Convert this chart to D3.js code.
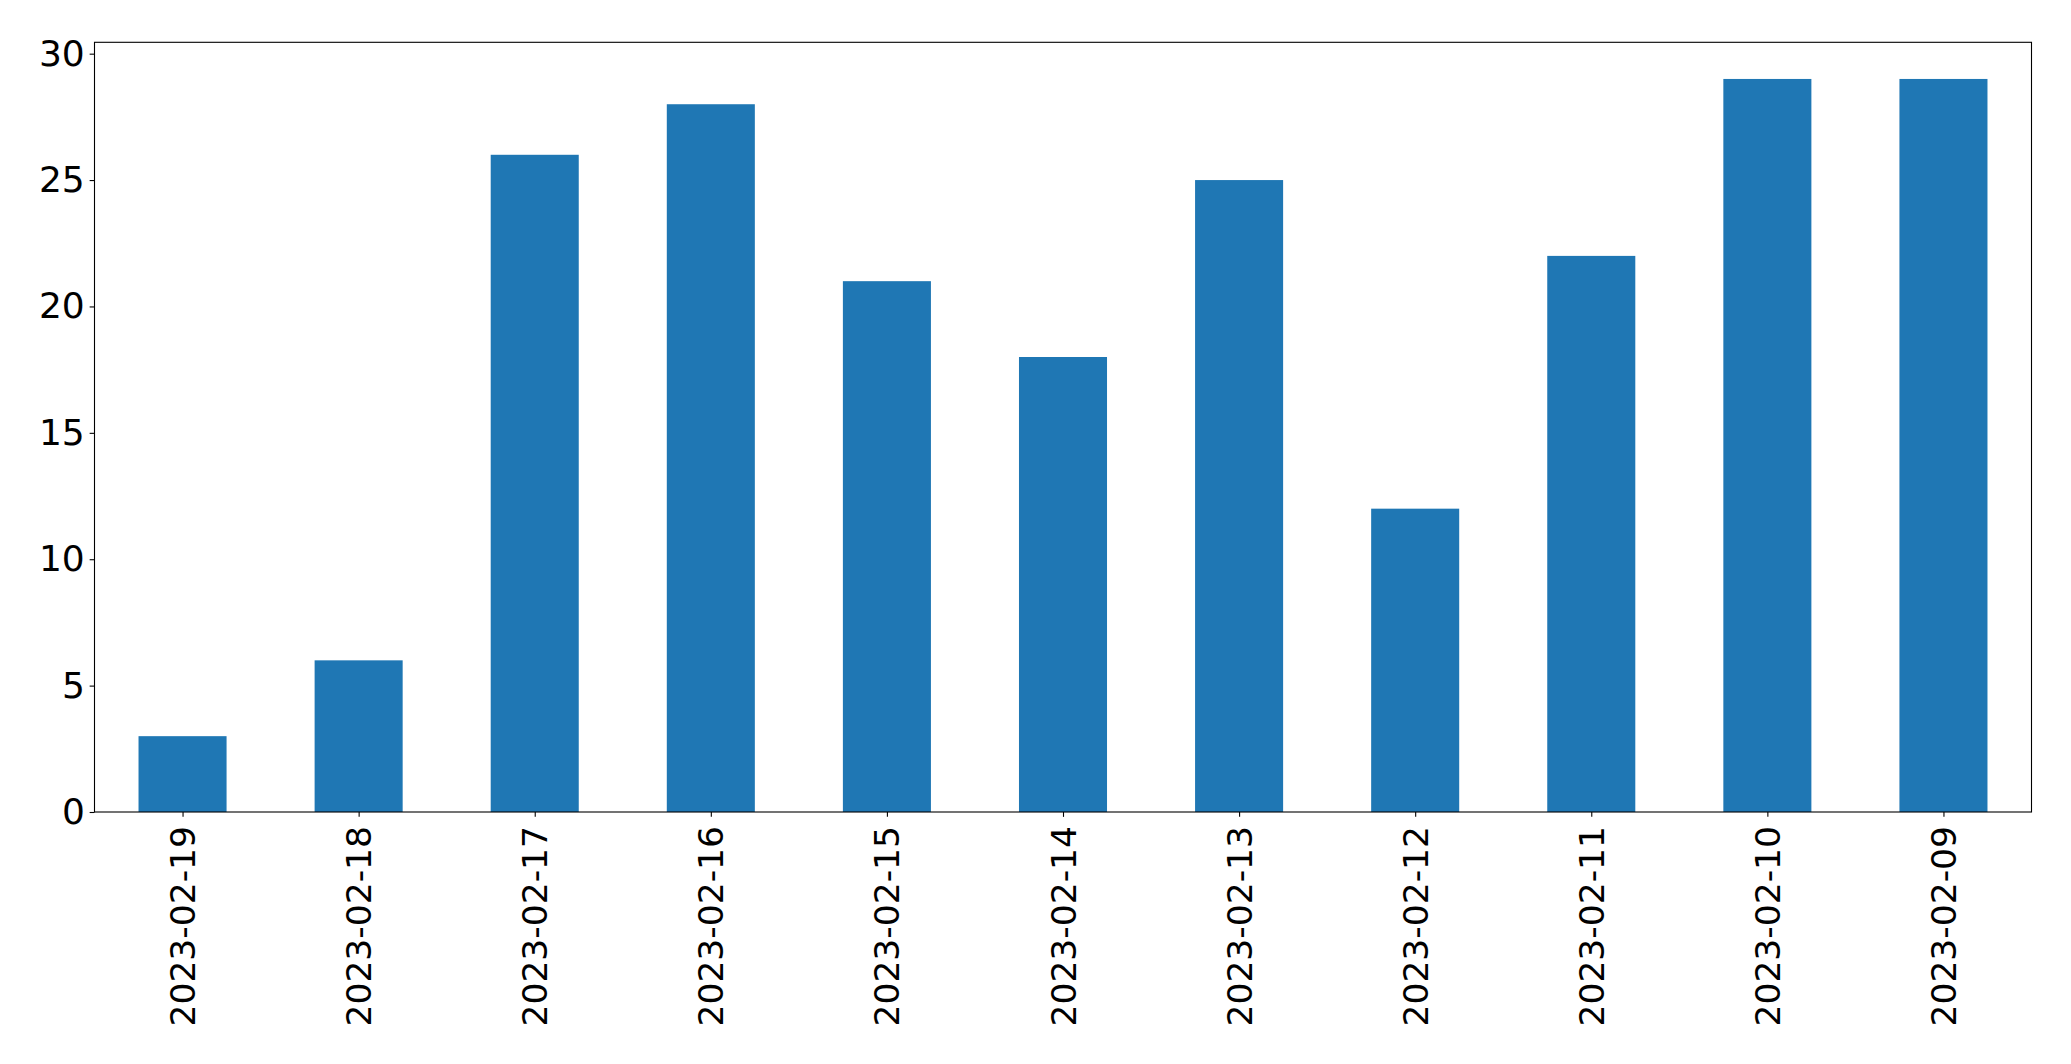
<!DOCTYPE html>
<html><head><meta charset="utf-8">
<script src="https://cdn.jsdelivr.net/npm/d3@7"></script>
<style>body{margin:0;background:#fff}svg{display:block}</style>
</head><body><svg id="c" width="2071" height="1064"></svg>
<script>
const categories = ["2023-02-19","2023-02-18","2023-02-17","2023-02-16","2023-02-15","2023-02-14","2023-02-13","2023-02-12","2023-02-11","2023-02-10","2023-02-09"];
const values = [3, 6, 26, 28, 21, 18, 25, 12, 22, 29, 29];
const yTicks = [0, 5, 10, 15, 20, 25, 30];

const svg = d3.select("#c");
const L = 94.5, R = 2031.5, T = 42.3, B = 812;
const font = "DejaVu Sans";
const x = d3.scaleLinear().domain([-0.5, categories.length - 0.5]).range([L, R]);
const y = d3.scaleLinear().domain([0, d3.max(values) * 1.05]).range([B, T]);
const bw = x(0.25) - x(-0.25);

svg.append("g").selectAll("rect").data(values).join("rect")
  .attr("x", (d, i) => x(i) - bw / 2)
  .attr("width", bw)
  .attr("y", d => y(d))
  .attr("height", d => B - y(d))
  .attr("fill", "#1f77b4");

const yAxis = svg.append("g").attr("transform", `translate(${L},0)`)
  .call(d3.axisLeft(y).tickValues(yTicks).tickSize(4.86).tickPadding(4.86).tickFormat(d3.format("d")));
yAxis.select(".domain").remove();
yAxis.selectAll("text").attr("font-family", font).attr("font-size", 36).attr("fill", "#000");
yAxis.selectAll("line").attr("stroke", "#000").attr("stroke-width", 1.1);

const xAxis = svg.append("g").attr("transform", `translate(0,${B})`)
  .call(d3.axisBottom(x).tickValues(d3.range(categories.length)).tickSize(4.86).tickPadding(4.86).tickFormat(i => categories[i]));
xAxis.select(".domain").remove();
xAxis.selectAll("line").attr("stroke", "#000").attr("stroke-width", 1.1);
xAxis.selectAll("text")
  .attr("font-family", font).attr("font-size", 34.5).attr("fill", "#000")
  .attr("text-anchor", "end")
  .attr("y", 0).attr("dy", "0.35em")
  .attr("transform", "translate(0,14) rotate(-90)")
  .attr("x", 0);

svg.append("rect").attr("x", L).attr("y", T).attr("width", R - L).attr("height", B - T)
  .attr("fill", "none").attr("stroke", "#000").attr("stroke-width", 1.1);
</script></body></html>
